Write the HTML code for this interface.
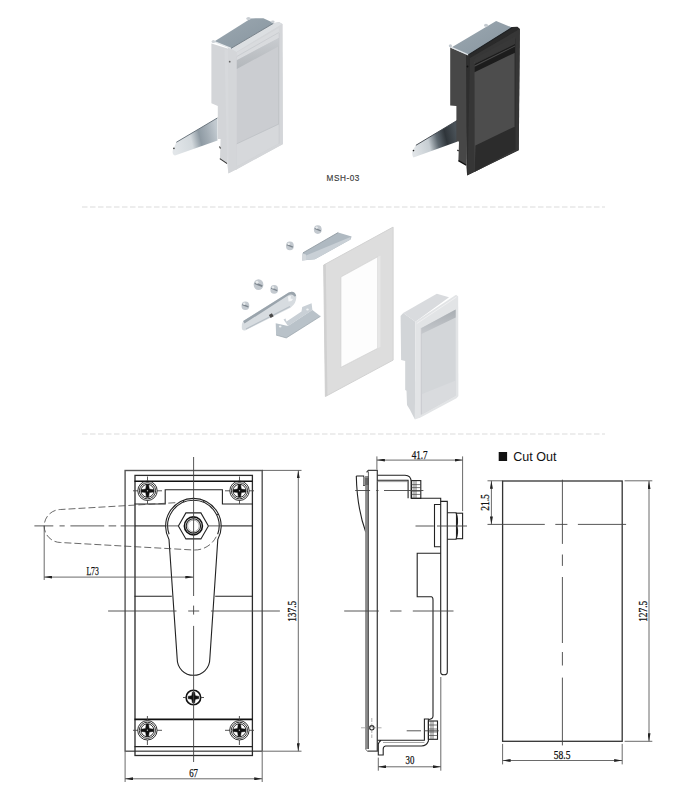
<!DOCTYPE html>
<html><head><meta charset="utf-8"><style>
html,body{margin:0;padding:0;background:#fff;width:687px;height:800px;overflow:hidden}
svg{display:block}
text{font-family:"Liberation Sans",sans-serif}
.ln{stroke:#222;stroke-width:1.1;fill:none}
.tk{stroke:#111;stroke-width:1.6;fill:none}
.dm{stroke:#444;stroke-width:0.8;fill:none}
.cl{stroke:#444;stroke-width:0.8;fill:none;stroke-dasharray:64 10 11 10}
.cs{stroke:#444;stroke-width:0.9;fill:none}
.dl{stroke:#444;stroke-width:0.8;fill:none;stroke-dasharray:7 3}
.dt{font-family:"Liberation Serif",serif;font-size:11.5px;fill:#111;stroke:#111;stroke-width:0.25}
</style></head><body>
<svg width="687" height="800" viewBox="0 0 687 800">
<defs>
<linearGradient id="metal" x1="0" y1="0" x2="0" y2="1">
<stop offset="0" stop-color="#e8ecef"/><stop offset="0.45" stop-color="#9aa4ac"/><stop offset="0.7" stop-color="#d7dde1"/><stop offset="1" stop-color="#aab2b8"/>
</linearGradient>
<linearGradient id="lev1" x1="0" y1="0.6" x2="1" y2="0.4">
<stop offset="0" stop-color="#e2e6e9"/><stop offset="0.4" stop-color="#d3d9dd"/><stop offset="0.6" stop-color="#8e9aa3"/><stop offset="0.78" stop-color="#a3adb5"/><stop offset="1" stop-color="#c2cad0"/>
</linearGradient>
<linearGradient id="lev2" x1="0" y1="0.6" x2="1" y2="0.4">
<stop offset="0" stop-color="#e0e4e7"/><stop offset="0.35" stop-color="#c6cdd2"/><stop offset="0.55" stop-color="#5f6971"/><stop offset="0.75" stop-color="#2f353a"/><stop offset="1" stop-color="#4a5258"/>
</linearGradient>
<linearGradient id="rec1" x1="0" y1="0" x2="0" y2="1">
<stop offset="0" stop-color="#c9ccd0"/><stop offset="1" stop-color="#b3b7bb"/>
</linearGradient>
<linearGradient id="rec2" x1="0" y1="0" x2="0" y2="1">
<stop offset="0" stop-color="#a9aeb3"/><stop offset="1" stop-color="#c6c9cd"/>
</linearGradient>
<linearGradient id="plate" x1="0" y1="0" x2="1" y2="1">
<stop offset="0" stop-color="#9ca8b1"/><stop offset="1" stop-color="#87959f"/>
</linearGradient>
<g id="scr">
    <circle r="9.7" stroke="#1a1a1a" stroke-width="0.9" fill="none"/><circle r="8.1" stroke="#1a1a1a" stroke-width="0.9" fill="none"/><circle r="6.5" stroke="#1a1a1a" stroke-width="0.9" fill="none"/>
    <path d="M-6.3,-1.1 L-1.8,-1.7 L-1.1,-6.3 L1.1,-6.3 L1.8,-1.7 L6.3,-1.1 L6.3,1.1 L1.8,1.7 L1.1,6.3 L-1.1,6.3 L-1.8,1.7 L-6.3,1.1 Z" fill="#111" stroke="#111" stroke-width="0.5" stroke-linejoin="round"/>
    <circle r="0.7" fill="#bbb"/>
  </g>
<path id="phil" d="M-5.3,-1.1 L-1.7,-1.7 L-1.1,-5.3 L1.1,-5.3 L1.7,-1.7 L5.3,-1.1 L5.3,1.1 L1.7,1.7 L1.1,5.3 L-1.1,5.3 L-1.7,1.7 L-5.3,1.1 Z" fill="#111" stroke="#111" stroke-width="0.6" stroke-linejoin="round"/>
<g id="bolt">
    <ellipse rx="3.9" ry="4.3" fill="#c3c9cf"/>
    <path d="M-3,-1.2 L3,1.2" stroke="#7e878f" stroke-width="1.4"/>
    <circle cx="-1.2" cy="-2" r="1.2" fill="#e9ecee"/>
  </g>
<marker id="ar" viewBox="0 0 8 3" refX="8" refY="1.5" markerWidth="8" markerHeight="3" markerUnits="userSpaceOnUse" orient="auto-start-reverse"><path d="M0,0 L8,1.5 L0,3 z" fill="#222"/></marker>
</defs>

<!-- ===== separators ===== -->
<line x1="82" y1="207" x2="605" y2="207" stroke="#dcdcdc" stroke-width="1.2" stroke-dasharray="5.5 2.5"/>
<line x1="82" y1="434" x2="605" y2="434" stroke="#dcdcdc" stroke-width="1.2" stroke-dasharray="5.5 2.5"/>

<!-- ===== top-left gray latch ===== -->
<g id="latch1">
  <path d="M176.3,142.3 L217.5,117.9 L217.5,140.5 L175,155.6 Q172.2,154.5 172.6,151 Z" fill="url(#lev1)"/>
  <path d="M176.3,142.3 L217.5,117.9" stroke="#5f6a73" stroke-width="0.9" fill="none"/>
  <circle cx="173.9" cy="148.4" r="0.8" fill="#333"/>
  <polygon points="211.4,43.5 231,49.6 227.2,163.6 220,158.8 220.6,139 217.8,139 217.8,106 211.4,103.2" fill="#d3d5d8"/>
  <path d="M219.8,158.6 L227.2,163.6" stroke="#333" stroke-width="1.1" fill="none"/><path d="M219.4,146.5 L220.6,148.5" stroke="#444" stroke-width="1.2"/>
  <polygon points="224.5,49 236.3,52 236.3,169.5 228.4,173.2 227.2,163.6" fill="#d7d9dc"/>
  <polygon points="228.3,50 231.2,51 231.2,171.5 228.5,172.5" fill="#dddfe1"/>
  <line x1="236.2" y1="52" x2="236.2" y2="169.5" stroke="#a9acb0" stroke-width="0.8"/>
  <polygon points="228,48 273.3,23 279.1,21.9 282.5,24 282.9,144.2 228.4,173.4" fill="#d4d6d9"/>
  <polygon points="214.3,41.6 250.8,18.4 263.4,18.2 272.1,22.2 273.3,23.4 231,48.4" fill="url(#plate)"/>
  <polygon points="231,48.4 273.3,23.4 279.1,22.2 282.3,24 236.5,52" fill="#dcdfe2"/>
  <path d="M214.3,41.6 L231,48.4" stroke="#e3e7ea" stroke-width="1.3" fill="none"/><path d="M231,48.4 L273.3,23.4" stroke="#6f7a83" stroke-width="0.9" fill="none"/>
  <ellipse cx="248.5" cy="18.6" rx="2.2" ry="1.5" fill="#c9ced3"/><ellipse cx="213.4" cy="41.5" rx="1.8" ry="1.6" fill="#cfd4d8"/><ellipse cx="272.8" cy="21.8" rx="1.8" ry="1.4" fill="#c9ced3"/>
  <polygon points="236.6,52 282.3,24 282.7,144 236.6,169.5" fill="#d4d6d9"/>
  <polygon points="236.8,57 278.8,33 278.8,143.5 236.8,166.5" fill="#cbcdd1"/>
  <line x1="278.8" y1="33" x2="278.8" y2="143.5" stroke="#b8bbbf" stroke-width="0.7"/>
  <polygon points="236.8,52.5 278.8,28 278.8,38 236.8,60.2" fill="#d9dbde"/>
  <polygon points="236.8,60.2 278.8,37.9 278.8,46.2 236.8,69" fill="url(#rec1)"/>
  <path d="M236.8,56.5 L278.8,32.5" stroke="#c4c7cb" stroke-width="0.7"/>
  <polygon points="236.8,143.8 278.8,124 278.8,143.5 236.8,166.5" fill="#d6d8db"/>
  <path d="M236.8,143.8 L278.8,124" stroke="#bdc0c4" stroke-width="0.8"/>
  <circle cx="229.7" cy="61.7" r="0.9" fill="#666"/>
</g>

<!-- ===== top-right black latch ===== -->
<g id="latch2">
  <path d="M415.9,145.3 L457,120.5 L457,141.7 L413.5,157.5 Q412,156 412.3,151 Z" fill="url(#lev2)"/>
  <path d="M415.9,145.3 L457,120.5" stroke="#3c4248" stroke-width="0.9" fill="none"/>
  <circle cx="413.5" cy="150.6" r="0.8" fill="#222"/>
  <polygon points="450.2,47.5 468.3,55 466.3,165.3 458.4,160.6 459,141.4 456.4,141.4 456.4,106 450.2,105.6" fill="#474747"/>
  <path d="M458.4,160.6 L466.3,165.3" stroke="#0d0d0d" stroke-width="1.3" fill="none"/><path d="M457.4,150 L458.6,151" stroke="#111" stroke-width="1.2"/>
  <polygon points="466,54 474,58.5 474.1,171.7 467.1,175.2 466.3,165.3" fill="#3d3d3d"/>
  <line x1="473.8" y1="58.5" x2="473.8" y2="171.7" stroke="#262626" stroke-width="0.9"/>
  <polygon points="466,53.5 512.1,27 517.4,26.8 519.9,29 518.8,150.3 467.1,175.4" fill="#2e2e2e"/>
  <polygon points="451.4,47.4 496.1,21.1 512.1,27.5 468.3,54.9" fill="url(#plate)"/>
  <polygon points="468.3,54.9 512.1,27.5 517.4,27.2 519.7,29 470,58" fill="#2a2a2a"/>
  <path d="M451.4,47.4 L468.3,54.9" stroke="#dfe4e8" stroke-width="1.2" fill="none"/><path d="M468.3,54.9 L512.1,27.5" stroke="#1e2124" stroke-width="1.1" fill="none"/>
  <ellipse cx="486" cy="25.2" rx="2" ry="1.5" fill="#c4cad0"/><ellipse cx="450.4" cy="45.8" rx="1.6" ry="1.5" fill="#c4cad0"/>
  <polygon points="470,58 519.7,29 518.6,150.1 467.5,175" fill="#363636"/>
  <polygon points="474.5,62 515,38.5 515,150 474.7,171.7" fill="#4d4d4d"/>
  <line x1="515" y1="38.5" x2="515" y2="150" stroke="#2a2a2a" stroke-width="0.8"/>
  <polygon points="474.5,58.5 515,36.5 515,44 474.5,64.1" fill="#383838"/>
  <polygon points="474.5,64.1 515,44 515,52.7 474.5,72.2" fill="#1c1c1c"/>
  <polygon points="474.5,65.6 515,45.5 515,46.6 474.5,66.8" fill="#4a4a4a"/>
  <polygon points="475.4,145.5 513.4,127.2 515,127 515,150 474.7,171.7" fill="#2c2c2c"/>
  <circle cx="467.5" cy="66.5" r="0.9" fill="#111"/>
</g>

<text x="326.6" y="181" font-size="8.2" fill="#3a3a3a" stroke="#3a3a3a" stroke-width="0.15" textLength="32.8" lengthAdjust="spacing">MSH-03</text>

<!-- ===== exploded view ===== -->
<g id="exploded">
  <!-- frame -->
  <path d="M323.7,265 L393.1,227.1 L393.1,360.1 L325.4,396.5 Z M340.9,277 L340.9,367.3 L377.7,348.3 L377.7,256.8 Z" fill="#dddddd" fill-rule="evenodd" stroke="#d2d2d2" stroke-width="1"/>
  <path d="M340.9,277 L377.7,256.8 L377.7,348.3 L340.9,367.3 Z" fill="#fdfdfd" stroke="#d8d8d8" stroke-width="0.8"/>
  <polygon points="377.7,256.8 380.5,255.5 380.5,346.8 377.7,348.3" fill="#e6e6e6"/>
  <polygon points="323.7,265 325.8,264 327.4,395.4 325.4,396.5" fill="#d0d0d0"/>
  <!-- top bracket -->
  <polygon points="302.7,252.9 338.2,232.5 351.6,236.6 350.5,239.5 314.9,259.3 302.1,260.4" fill="#afb9c1"/>
  <polygon points="302.1,253.5 306,254.5 306,260 302.1,260.4" fill="#d3d8dc"/>
  <polygon points="306,255.5 350.5,237 350.5,239.5 314.9,259.3 306,260" fill="#c9d0d6"/>
  <path d="M303,252.8 L338.2,232.5" stroke="#8a949c" stroke-width="0.8"/>
  <!-- bolts -->
  <use href="#bolt" x="317.8" y="229.6"/>
  <use href="#bolt" x="289.9" y="245.9"/>
  <use href="#bolt" x="258.5" y="284.6" transform="translate(-64.6 -71.1) scale(1.25)"/>
  <use href="#bolt" x="274.2" y="289.4"/>
  <use href="#bolt" x="245.4" y="305.7"/>
  <!-- lever -->
  <path d="M243.2,321 L288.7,292.6 Q294.5,290 296.2,296 Q297,303 290.5,307.7 L245.1,330.4 Q241.5,331 241.8,327 Q241.8,323 243.2,321 Z" fill="#d7dce0"/>
  <path d="M243.2,321 L288.7,292.6 Q294.5,290 296.2,296 L294.5,296.5 Q292,293 288,295.5 L244.5,323.5 Z" fill="#9aa4ac"/>
  <path d="M246,329 L290,306.5" stroke="#b7bfc6" stroke-width="1.2"/>
  <path d="M288,296.5 l3,-0.5 l-0.5,2.5 l2.5,0.5 l-1.5,2 l-3,0.5 z" fill="#f4f6f7"/>
  <rect x="269.5" y="314" width="3.5" height="3.5" fill="#4a4a4a" transform="rotate(-30 271.2 315.7)"/>
  <!-- small bracket -->
  <polygon points="283.5,319.5 285.5,318.5 286.5,321.5 301.5,311.5 302.2,307 311.6,303.3 312.4,310 288,326" fill="#c9d0d6"/>
  <polygon points="275.7,323.3 288,326 312.4,310 320.5,316.3 286.3,337.9 276.1,335.1" fill="#b9c2c9"/>
  <path d="M276.1,335.1 L286.3,337.9 L320.5,316.3" stroke="#9aa3aa" stroke-width="0.7" fill="none"/>
  <ellipse cx="280.2" cy="326.4" rx="1.3" ry="1" fill="#eef1f3"/><ellipse cx="307.5" cy="309.4" rx="1.3" ry="1" fill="#eef1f3"/>
  <!-- latch -->
  <polygon points="400.6,316 403.2,313 415.4,321.7 414.9,419.5 409.8,409.5 407,405 406.5,390.7 405.2,390 405.2,361 401.1,360" fill="#d2d5d8"/>
  <polygon points="403.2,313 436.8,293.7 449,297.2 415.4,321.7" fill="#d9dbde"/>
  <polygon points="415.4,321.7 456.1,294.7 458.2,296.5 458.4,396 456.5,398.3 420.5,417.5 414.9,419.5" fill="#e2e4e6"/>
  <polygon points="421.5,327.9 455.7,309.5 455.7,395.5 421.5,414.5" fill="#d3d6d9"/>
  <polygon points="421.5,327.9 455.7,309.5 455.7,317.4 421.5,334" fill="url(#rec2)"/>
  <polygon points="421.5,394.2 455.7,380.4 455.7,395.5 421.5,414.5" fill="#d9dbde"/>
  <line x1="421.3" y1="327.9" x2="421.3" y2="414.5" stroke="#c0c3c7" stroke-width="0.7"/>
  <path d="M416.8,323.5 L456.5,297" stroke="#f2f3f4" stroke-width="0.8"/>
</g>

<!-- ===== front view drawing ===== -->
<g id="front">
  <rect x="125.1" y="470.5" width="137.1" height="280.7" fill="none" stroke="#555" stroke-width="1.4"/>
  <rect x="135" y="475.4" width="117.4" height="280.1" fill="none" stroke="#2a2a2a" stroke-width="1.3"/>
  <line x1="134.5" y1="481.2" x2="252.5" y2="481.2" class="tk"/>
  <line x1="134.5" y1="719.4" x2="252.5" y2="719.4" class="tk"/>
  <line x1="134.5" y1="746.6" x2="252.5" y2="746.6" class="ln"/>
  <path d="M134.5,504 L165.2,504 L165.2,489.8 L222.4,489.8 L222.4,504 L252.5,504" class="ln"/>
  <line x1="134.5" y1="596.3" x2="171.8" y2="596.3" class="ln"/>
  <line x1="215.2" y1="596.3" x2="252.5" y2="596.3" class="ln"/>
  <line x1="134.5" y1="525.9" x2="165.6" y2="525.9" class="ln"/>
  <line x1="221.2" y1="525.9" x2="252.5" y2="525.9" class="ln"/>
  <!-- handle -->
  <path d="M169,539.5 L177.2,659 A16.3,16.3 0 0 0 209.8,659 L217.8,539.5 A27.8,27.8 0 1 0 169,539.5 Z" fill="#fff" class="ln"/>
  <path d="M169.1,534.3 A25.7,25.7 0 1 1 217.7,534.3" class="ln"/>
  <path d="M183.8,502.1 L183.0,500.1 M203.4,502.2 L204.3,500.3 M216.7,515.0 L218.6,514.2" stroke="#222" stroke-width="1"/>
  <!-- hex nut -->
  <polygon points="178.4,525.9 185.9,512.9 200.9,512.9 208.4,525.9 200.9,538.9 185.9,538.9" class="ln"/>
  <circle cx="193.4" cy="525.9" r="9" class="tk"/>
  <circle cx="193.4" cy="525.9" r="7.2" class="ln"/>
  <circle cx="193.4" cy="525.9" r="5.8" stroke="#777" stroke-width="0.6" fill="none"/>
  <!-- screws -->
  <use href="#scr" x="147.5" y="490.8"/>
  <use href="#scr" x="239.5" y="490.8"/>
  <use href="#scr" x="147.4" y="730.3"/>
  <use href="#scr" x="239.4" y="730.3"/>
  <circle cx="193.4" cy="697.5" r="7.3" class="tk"/>
  <use href="#phil" x="193.5" y="697.5"/>
  <!-- centre lines -->
  <path d="M193.6,457 V596 M193.6,605.6 V614.6 M193.6,625.9 V762 M108.1,611 H176.5 M188.2,611 H199.2 M210.9,611 H279.9 M34.4,525.9 H53.3 M59.5,525.9 H64.7 M70.4,525.9 H104.2 M108.6,525.9 H116.2 M120.6,525.9 H134.5 M133,490.8 H138 M157,490.8 H162 M147.5,476.5 V481 M147.5,500 V504 M239.5,476.5 V481 M239.5,500 V504 M133,730.3 H138 M157,730.3 H162 M225,730.3 H230 M249,730.3 H254 M147.4,716 V720 M147.4,740 V745 M239.4,716 V720 M239.4,740 V745 M183,697.5 H186.5 M200.5,697.5 H204 M225,490.8 H230 M249,490.8 H254 M165.6,525.9 H178 M208.8,525.9 H221.2" class="cs"/>
  <!-- dashed rotated handle -->
  <path d="M175.3,502.7 L60.7,509.5 A16.5,16.5 0 0 0 60.7,542.5 L193.4,550 A24.1,24.1 0 0 0 216.6,535.9" class="dl"/>
  <!-- dims -->
  <line x1="44.2" y1="577.1" x2="193.3" y2="577.1" class="dm" marker-start="url(#ar)" marker-end="url(#ar)"/>
  <line x1="44.2" y1="526" x2="44.2" y2="580" class="dm"/>
  <text x="86.4" y="574.6" class="dt" textLength="12.4" lengthAdjust="spacingAndGlyphs">L73</text>
  <line x1="125.1" y1="778.8" x2="262.2" y2="778.8" class="dm" marker-start="url(#ar)" marker-end="url(#ar)"/>
  <line x1="125.1" y1="752" x2="125.1" y2="782" class="dm"/>
  <line x1="262.2" y1="752" x2="262.2" y2="782" class="dm"/>
  <text x="189.2" y="777.4" class="dt" textLength="8.8" lengthAdjust="spacingAndGlyphs">67</text>
  <line x1="298.3" y1="470.4" x2="298.3" y2="751.2" class="dm" marker-start="url(#ar)" marker-end="url(#ar)"/>
  <line x1="262" y1="470.4" x2="301.5" y2="470.4" class="dm"/>
  <line x1="263" y1="751.2" x2="301.5" y2="751.2" class="dm"/>
  <text transform="translate(296.4,621.8) rotate(-90)" class="dt" textLength="21" lengthAdjust="spacingAndGlyphs">137.5</text>
</g>

<!-- ===== side view ===== -->
<g id="side">
  <!-- lip -->
  <path d="M356.3,476 L363.6,476 L363.6,485.4 L366,485.4 M356.3,476 Q357,508 365.8,532.3" class="ln"/>
  <rect x="363.2" y="476.7" width="3" height="8.7" fill="#999"/>
  <!-- gray bar -->
  <rect x="365.1" y="476" width="3.4" height="273" fill="#8c8c8c"/>
  <rect x="365.1" y="478" width="3.4" height="7" fill="#666"/>
  <line x1="368.4" y1="471.5" x2="368.4" y2="749" stroke="#333" stroke-width="0.8"/>
  <path d="M365.3,749 L367.5,751.1" stroke="#666" stroke-width="1" fill="none"/>
  <!-- flange -->
  <path d="M366.6,472.3 L368.3,470.3 L377.3,470.3 L377.3,751.1 L367.5,751.1" fill="none" stroke="#444" stroke-width="1.3"/>
  <!-- top bracket -->
  <path d="M377.5,475.2 L405,475.2 Q411.1,475.4 411.1,481.5 L411.1,498.2 L440.7,498.2 L440.7,501.4" class="ln"/>
  <path d="M377.5,480.3 L408.1,480.3 L408.1,498.2" class="ln"/>
  <line x1="377.5" y1="481.6" x2="408.1" y2="481.6" stroke="#777" stroke-width="0.7"/>
  <rect x="411.6" y="480.6" width="9.2" height="17.8" class="ln"/>
  <path d="M411.6,484.6 H420.8 M411.6,487.6 H420.8 M411.6,491.2 H420.8 M411.6,494.4 H420.8 M414,480.6 V498.4 M416,480.6 V498.4" stroke="#444" stroke-width="0.7" fill="none"/>
  <!-- plates -->
  <path d="M440.7,546.8 L434.5,546.8 L434.5,504.5 L440.7,504.5" class="ln"/>
  <path d="M440.7,501.4 L447.3,501.4 L447.3,672 Q447.3,674.8 444,674.8 Q440.7,674.8 440.7,672 Z" class="ln"/>
  <!-- nut right -->
  <path d="M447.3,512.7 L456,512.7 Q458.5,519 457,526 Q458.5,533 456,539.2 L447.3,539.2" class="ln"/>
  <rect x="456.5" y="513.2" width="6.1" height="25.5" class="ln"/>
  <!-- cam -->
  <path d="M440.7,553.2 L417.2,553.2 L417.2,596.7 L431.5,596.7 Q433,597 433,600 L433,716 Q433,719 429,719.5" class="ln"/>
  <!-- bottom bracket -->
  <path d="M377.5,740.3 L424.4,740.3 L424.4,719 L428.4,719 L428.4,741 Q426.5,746 421.5,746 L385.5,746 Q383.2,746.5 383.2,749 L383.2,755 L378.3,755 L378.3,744 Q379,741.5 381,740.5" class="ln"/>
  <line x1="383" y1="742.5" x2="424.4" y2="742.5" stroke="#666" stroke-width="0.6"/>
  <rect x="428.4" y="721" width="9.1" height="18.3" class="ln"/>
  <path d="M428.4,725 H437.5 M428.4,729 H437.5 M428.4,732 H437.5 M428.4,735.5 H437.5 M431,721 V739.3 M433,721 V739.3" stroke="#444" stroke-width="0.7" fill="none"/>
  <circle cx="371.8" cy="727.8" r="2.2" class="ln"/>
  <path d="M361,727.8 H383 M371.8,718 V738" stroke="#777" stroke-width="0.6" stroke-dasharray="4 1.5"/>
  <!-- centre lines -->
  <path d="M355.2,490.5 H370.1 M376.2,490.5 H378.5 M384,490.5 H423.4 M415.5,526 H433.8 M437,526 H467 M344.2,611 H378.8 M390.1,611 H401.5 M412.8,611 H453.5 M406.7,730.8 H421 M424,730.8 H438.8" class="cs"/>
  <!-- dims -->
  <line x1="376.9" y1="460.1" x2="462.6" y2="460.1" class="dm" marker-start="url(#ar)" marker-end="url(#ar)"/>
  <line x1="376.9" y1="456.4" x2="376.9" y2="469.6" class="dm"/>
  <line x1="462.6" y1="456.4" x2="462.6" y2="511.2" class="dm"/>
  <text x="411.7" y="458.6" class="dt" textLength="16" lengthAdjust="spacingAndGlyphs">41.7</text>
  <line x1="378.3" y1="766.8" x2="440.8" y2="766.8" class="dm" marker-start="url(#ar)" marker-end="url(#ar)"/>
  <line x1="378.3" y1="757.6" x2="378.3" y2="770.7" class="dm"/>
  <line x1="440.8" y1="677" x2="440.8" y2="770.7" class="dm"/>
  <text x="405.5" y="764.2" class="dt" textLength="8.8" lengthAdjust="spacingAndGlyphs">30</text>
</g>

<!-- ===== cut out ===== -->
<g id="cut">
  <rect x="498.7" y="452" width="8.4" height="9" fill="#111"/>
  <text x="513.2" y="461.1" font-size="13" fill="#111" textLength="43.2" lengthAdjust="spacingAndGlyphs">Cut Out</text>
  <rect x="502.6" y="481" width="119.6" height="260.3" fill="none" stroke="#333" stroke-width="1.3"/>
  <path d="M562.4,479.7 V543.9 M562.4,554.5 V565.9 M562.4,577 V643 M562.4,652 V665.5 M562.4,677.6 V745.4 M487.5,524.4 H544.8 M555.3,524.4 H567.4 M577.9,524.4 H626.1" class="cs"/>
  <line x1="491.4" y1="480.8" x2="491.4" y2="524.4" class="dm" marker-start="url(#ar)" marker-end="url(#ar)"/>
  <line x1="487.5" y1="480.8" x2="502.6" y2="480.8" class="dm"/>
  <text transform="translate(489.2,510.8) rotate(-90)" class="dt" textLength="16.6" lengthAdjust="spacingAndGlyphs">21.5</text>
  <line x1="649" y1="481" x2="649" y2="741.3" class="dm" marker-start="url(#ar)" marker-end="url(#ar)"/>
  <line x1="624.6" y1="480.8" x2="652.3" y2="480.8" class="dm"/>
  <line x1="624.6" y1="741.3" x2="652.3" y2="741.3" class="dm"/>
  <text transform="translate(646.8,621.8) rotate(-90)" class="dt" textLength="21" lengthAdjust="spacingAndGlyphs">127.5</text>
  <line x1="502.6" y1="760.5" x2="622.2" y2="760.5" class="dm" marker-start="url(#ar)" marker-end="url(#ar)"/>
  <line x1="502.6" y1="743.9" x2="502.6" y2="764.4" class="dm"/>
  <line x1="622.2" y1="743.9" x2="622.2" y2="764.4" class="dm"/>
  <text x="553.8" y="758.5" class="dt" textLength="16.6" lengthAdjust="spacingAndGlyphs">58.5</text>
</g>
</svg>
</body></html>
